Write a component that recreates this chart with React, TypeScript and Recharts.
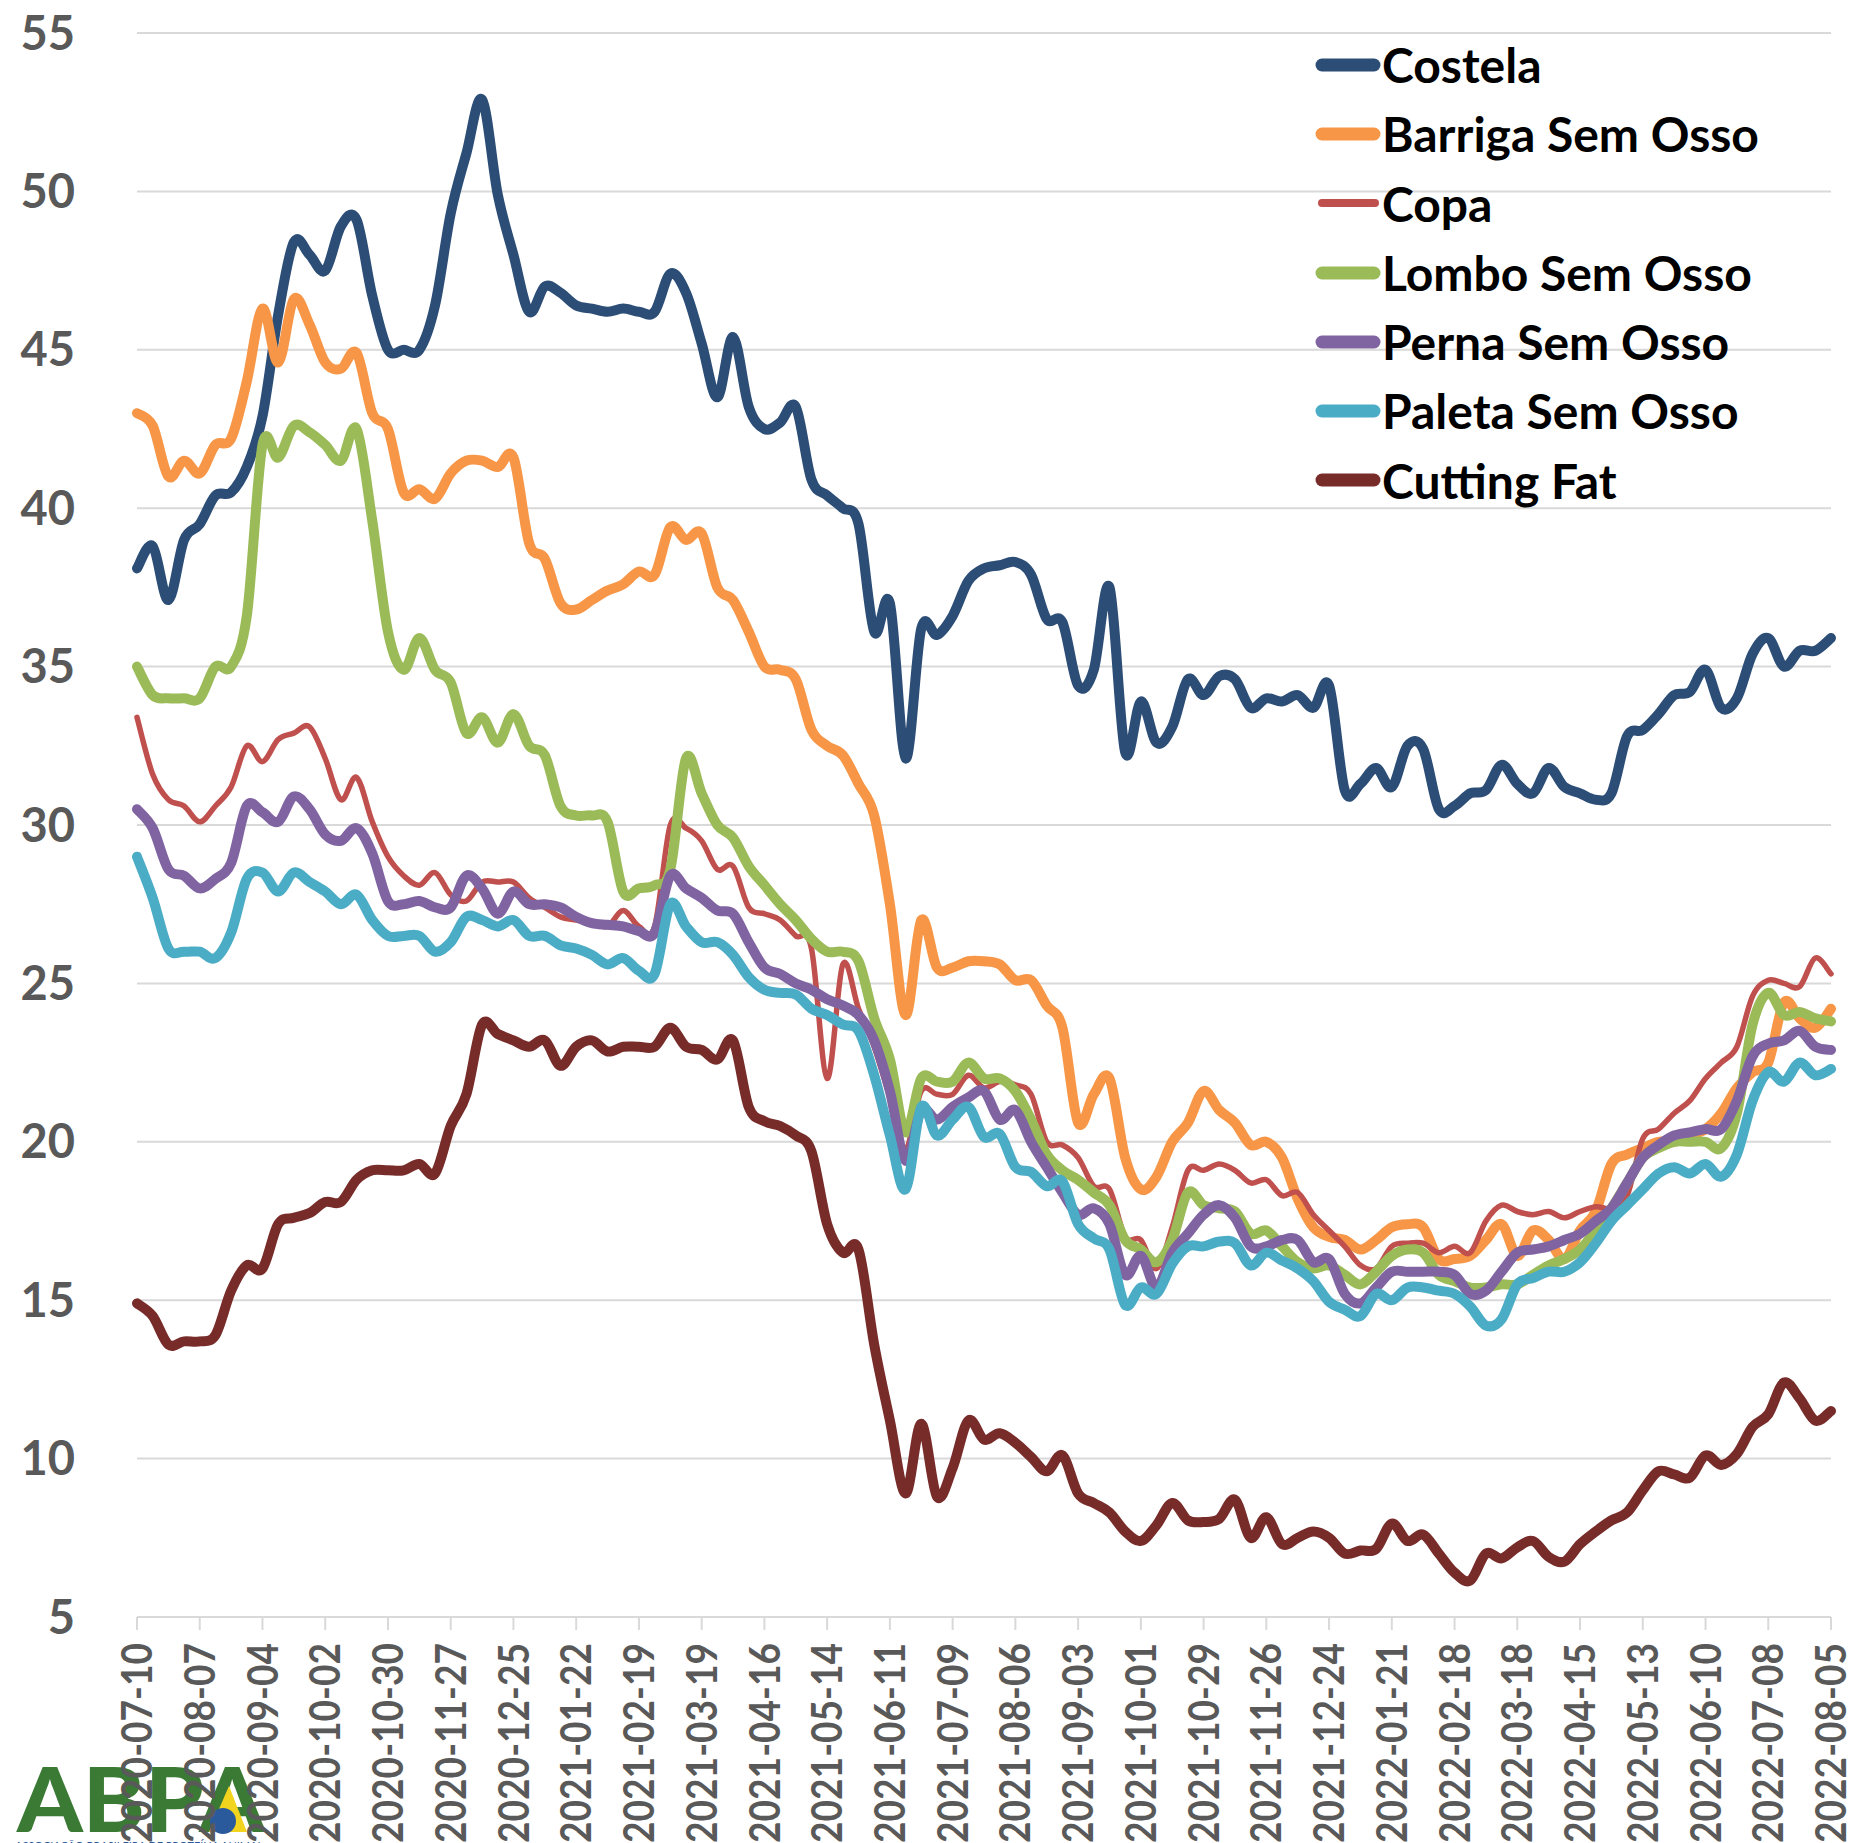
import React from 'react';
import { LineChart, Line, XAxis, YAxis, CartesianGrid } from 'recharts';

const dates = [
  '2020-07-10','2020-07-17','2020-07-24','2020-07-31','2020-08-07','2020-08-14','2020-08-21','2020-08-28',
  '2020-09-04','2020-09-11','2020-09-18','2020-09-25','2020-10-02','2020-10-09','2020-10-16','2020-10-23',
  '2020-10-30','2020-11-06','2020-11-13','2020-11-20','2020-11-27','2020-12-04','2020-12-11','2020-12-18',
  '2020-12-25','2021-01-01','2021-01-08','2021-01-15','2021-01-22','2021-01-29','2021-02-05','2021-02-12',
  '2021-02-19','2021-02-26','2021-03-05','2021-03-12','2021-03-19','2021-03-26','2021-04-02','2021-04-09',
  '2021-04-16','2021-04-23','2021-04-30','2021-05-07','2021-05-14','2021-05-21','2021-05-28','2021-06-04',
  '2021-06-11','2021-06-18','2021-06-25','2021-07-02','2021-07-09','2021-07-16','2021-07-23','2021-07-30',
  '2021-08-06','2021-08-13','2021-08-20','2021-08-27','2021-09-03','2021-09-10','2021-09-17','2021-09-24',
  '2021-10-01','2021-10-08','2021-10-15','2021-10-22','2021-10-29','2021-11-05','2021-11-12','2021-11-19',
  '2021-11-26','2021-12-03','2021-12-10','2021-12-17','2021-12-24','2021-12-31','2022-01-07','2022-01-14',
  '2022-01-21','2022-01-28','2022-02-04','2022-02-11','2022-02-18','2022-02-25','2022-03-04','2022-03-11',
  '2022-03-18','2022-03-25','2022-04-01','2022-04-08','2022-04-15','2022-04-22','2022-04-29','2022-05-06',
  '2022-05-13','2022-05-20','2022-05-27','2022-06-03','2022-06-10','2022-06-17','2022-06-24','2022-07-01',
  '2022-07-08','2022-07-15','2022-07-22','2022-07-29','2022-08-05',
];

const costela = [
  38.1, 38.8, 37.1, 39.0, 39.5, 40.4, 40.5, 41.3, 42.9, 46.1, 48.4, 48.0, 47.5, 48.9, 49.1, 46.7,
  45.0, 45.0, 45.0, 46.4, 49.3, 51.2, 52.9, 49.9, 48.0, 46.2, 47.0, 46.8, 46.4, 46.3, 46.2, 46.3,
  46.2, 46.2, 47.4, 46.8, 45.2, 43.5, 45.4, 43.2, 42.5, 42.7, 43.2, 40.9, 40.4, 40.0, 39.5, 36.1,
  37.0, 32.1, 36.2, 36.0, 36.6, 37.7, 38.1, 38.2, 38.3, 37.9, 36.5, 36.4, 34.4, 34.9, 37.5, 32.3,
  33.9, 32.6, 33.1, 34.6, 34.1, 34.7, 34.6, 33.7, 34.0, 33.9, 34.1, 33.7, 34.4, 31.1, 31.3, 31.8,
  31.2, 32.5, 32.4, 30.5, 30.6, 31.0, 31.1, 31.9, 31.3, 31.0, 31.8, 31.2, 31.0, 30.8, 31.0, 32.8,
  33.0, 33.5, 34.1, 34.2, 34.9, 33.7, 34.0, 35.4, 35.9, 35.0, 35.5, 35.5, 35.9,
];

const barriga = [
  43.0, 42.6, 41.0, 41.5, 41.1, 42.0, 42.2, 44.0, 46.3, 44.6, 46.6, 45.8, 44.6, 44.4, 44.9, 43.0,
  42.5, 40.5, 40.6, 40.3, 41.1, 41.5, 41.5, 41.3, 41.6, 38.9, 38.4, 37.0, 36.8, 37.1, 37.4, 37.6,
  38.0, 37.9, 39.4, 39.0, 39.2, 37.5, 37.1, 36.1, 35.0, 34.9, 34.6, 33.0, 32.5, 32.2, 31.3, 30.3,
  27.5, 24.0, 27.0, 25.5, 25.5, 25.7, 25.7, 25.6, 25.1, 25.1, 24.3, 23.6, 20.6, 21.5, 22.0, 19.5,
  18.5, 18.9, 20.0, 20.6, 21.6, 21.0, 20.6, 19.9, 20.0, 19.5, 18.2, 17.3, 17.0, 16.9, 16.6, 16.9,
  17.3, 17.4, 17.3, 16.3, 16.3, 16.4, 16.9, 17.4, 16.4, 17.2, 16.9, 16.3, 17.2, 17.8, 19.3, 19.6,
  19.8, 20.0, 20.0, 20.2, 20.4, 20.9, 21.7, 22.2, 22.5, 24.4, 23.9, 23.6, 24.2,
];

const copa = [
  33.4, 31.6, 30.8, 30.6, 30.1, 30.6, 31.2, 32.5, 32.0, 32.7, 32.9, 33.1, 32.1, 30.8, 31.5, 30.1,
  29.0, 28.4, 28.1, 28.5, 27.8, 27.6, 28.2, 28.2, 28.2, 27.7, 27.4, 27.1, 27.0, 26.9, 26.8, 27.3,
  26.8, 26.8, 30.0, 29.9, 29.5, 28.6, 28.7, 27.4, 27.2, 27.0, 26.5, 26.1, 22.0, 25.6, 24.2, 23.0,
  21.4, 19.8, 21.6, 21.5, 21.5, 22.1, 21.7, 21.9, 21.8, 21.5, 20.0, 19.9, 19.5, 18.6, 18.5, 17.0,
  16.9, 16.0, 17.3, 19.1, 19.1, 19.3, 19.1, 18.7, 18.8, 18.3, 18.4, 17.7, 17.2, 16.7, 16.1, 16.0,
  16.7, 16.8, 16.8, 16.5, 16.7, 16.5, 17.5, 18.0, 17.8, 17.7, 17.8, 17.6, 17.8, 17.95, 17.9, 18.3,
  20.1, 20.4, 20.9, 21.3, 22.0, 22.5, 23.0, 24.6, 25.1, 25.0, 24.9, 25.8, 25.3,
];

const lombo = [
  35.0, 34.1, 34.0, 34.0, 34.0, 35.0, 35.0, 36.6, 42.0, 41.6, 42.6, 42.4, 42.0, 41.5, 42.5, 39.6,
  36.1, 34.9, 35.9, 34.9, 34.5, 32.9, 33.4, 32.6, 33.5, 32.5, 32.2, 30.6, 30.3, 30.3, 30.1, 27.9,
  28.0, 28.1, 28.6, 32.1, 31.0, 30.0, 29.6, 28.7, 28.1, 27.5, 27.0, 26.4, 26.0, 26.0, 25.7, 23.9,
  22.6, 20.3, 22.0, 21.9, 21.9, 22.5, 22.0, 22.0, 21.6, 20.7, 19.6, 19.1, 18.8, 18.4, 18.0, 16.9,
  16.6, 16.2, 16.9, 18.4, 18.0, 17.9, 17.8, 17.1, 17.2, 16.7, 16.2, 16.0, 16.1, 15.8, 15.5, 15.9,
  16.4, 16.6, 16.5, 15.8, 15.6, 15.4, 15.4, 15.5, 15.5, 15.8, 16.1, 16.3, 16.6, 17.2, 17.9, 18.7,
  19.5, 19.8, 20.0, 20.0, 20.0, 19.8, 20.9, 23.7, 24.7, 24.0, 24.1, 23.9, 23.8,
];

const perna = [
  30.5, 29.9, 28.6, 28.4, 28.0, 28.3, 28.8, 30.6, 30.4, 30.1, 30.9, 30.5, 29.7, 29.5, 29.9, 29.1,
  27.6, 27.5, 27.6, 27.4, 27.4, 28.4, 28.0, 27.2, 27.9, 27.5, 27.5, 27.4, 27.1, 26.9, 26.85, 26.8,
  26.65, 26.6, 28.4, 28.0, 27.7, 27.3, 27.2, 26.3, 25.5, 25.3, 25.0, 24.8, 24.5, 24.3, 24.0, 23.2,
  21.6, 19.4, 21.0, 20.7, 21.1, 21.4, 21.6, 20.7, 21.0, 20.0, 19.2, 18.4, 17.7, 17.9, 17.4, 15.8,
  16.4, 15.4, 16.5, 17.1, 17.7, 18.0, 17.6, 16.7, 16.7, 16.9, 16.9, 16.2, 16.3, 15.2, 14.9, 15.4,
  15.9, 15.9, 15.9, 15.9, 15.8, 15.2, 15.3, 15.9, 16.5, 16.6, 16.7, 16.9, 17.1, 17.5, 17.9, 18.7,
  19.5, 19.9, 20.2, 20.3, 20.4, 20.4, 21.3, 22.7, 23.1, 23.2, 23.5, 23.0, 22.9,
];

const paleta = [
  29.0, 27.7, 26.1, 26.0, 26.0, 25.8, 26.6, 28.3, 28.5, 27.9, 28.5, 28.2, 27.9, 27.5, 27.8, 27.0,
  26.5, 26.5, 26.5, 26.0, 26.3, 27.1, 27.0, 26.8, 27.0, 26.5, 26.5, 26.2, 26.1, 25.9, 25.6, 25.8,
  25.4, 25.3, 27.5, 26.8, 26.3, 26.3, 25.9, 25.2, 24.8, 24.7, 24.65, 24.2, 24.0, 23.7, 23.5, 22.1,
  20.2, 18.5, 21.1, 20.2, 20.7, 21.1, 20.15, 20.25, 19.2, 19.05, 18.6, 18.75, 17.4, 16.95, 16.6, 14.85,
  15.4, 15.2, 16.15, 16.7, 16.7, 16.85, 16.8, 16.1, 16.5, 16.25, 16.0, 15.6, 14.95, 14.7, 14.5, 15.2,
  15.0, 15.4, 15.4, 15.3, 15.2, 14.8, 14.2, 14.4, 15.5, 15.7, 15.9, 15.9, 16.2, 16.8, 17.5, 18.0,
  18.5, 19.0, 19.2, 19.0, 19.3, 18.9, 19.6, 21.3, 22.2, 21.9, 22.5, 22.1, 22.3,
];

const cuttingFat = [
  14.9, 14.5, 13.6, 13.7, 13.7, 13.9, 15.3, 16.1, 16.0, 17.4, 17.6, 17.75, 18.1, 18.1, 18.8, 19.1,
  19.1, 19.1, 19.3, 19.0, 20.5, 21.5, 23.7, 23.4, 23.2, 23.0, 23.2, 22.4, 23.0, 23.2, 22.85, 23.0,
  23.0, 23.0, 23.6, 23.0, 22.9, 22.6, 23.2, 21.1, 20.65, 20.5, 20.2, 19.7, 17.4, 16.5, 16.6, 13.6,
  11.2, 8.9, 11.1, 8.8, 9.7, 11.2, 10.6, 10.8, 10.5, 10.05, 9.6, 10.1, 8.9, 8.6, 8.3, 7.7,
  7.4, 7.9, 8.6, 8.05, 8.0, 8.1, 8.7, 7.5, 8.15, 7.3, 7.5, 7.7, 7.5, 7.0, 7.1, 7.15,
  7.95, 7.4, 7.6, 7.0, 6.4, 6.15, 7.0, 6.85, 7.2, 7.4, 6.9, 6.75, 7.3, 7.7, 8.05, 8.3,
  9.0, 9.6, 9.5, 9.4, 10.1, 9.8, 10.15, 11.0, 11.4, 12.4, 11.9, 11.2, 11.5,
];

const yTicks = [5, 10, 15, 20, 25, 30, 35, 40, 45, 50, 55];

const seriesNames = ['Costela', 'Barriga Sem Osso', 'Copa', 'Lombo Sem Osso', 'Perna Sem Osso', 'Paleta Sem Osso', 'Cutting Fat'];
const seriesKeys = ['costela', 'barriga', 'copa', 'lombo', 'perna', 'paleta', 'cuttingFat'];
const seriesColors = ['#2C4D75', '#F79646', '#C0504D', '#9BBB59', '#8064A2', '#4BACC6', '#772C2A'];
const seriesWidths = [10, 10, 5.5, 10, 10, 10, 10];
const seriesValues = [costela, barriga, copa, lombo, perna, paleta, cuttingFat];

const data = dates.map((date, i) => {
  const row: Record<string, any> = { date };
  seriesKeys.forEach((k, s) => {
    row[k] = seriesValues[s][i];
  });
  return row;
});

// Excel-like smoothed line (Catmull-Rom style Bezier)
const excelCurve = (context: any) => {
  let pts: number[][] = [];
  return {
    areaStart() {},
    areaEnd() {},
    lineStart() {
      pts = [];
    },
    point(x: number, y: number) {
      pts.push([+x, +y]);
    },
    lineEnd() {
      const n = pts.length;
      if (!n) return;
      context.moveTo(pts[0][0], pts[0][1]);
      const t = 1 / 6;
      for (let i = 0; i < n - 1; i++) {
        const p0 = pts[Math.max(i - 1, 0)];
        const p1 = pts[i];
        const p2 = pts[i + 1];
        const p3 = pts[Math.min(i + 2, n - 1)];
        context.bezierCurveTo(
          p1[0] + (p2[0] - p0[0]) * t,
          p1[1] + (p2[1] - p0[1]) * t,
          p2[0] - (p3[0] - p1[0]) * t,
          p2[1] - (p3[1] - p1[1]) * t,
          p2[0],
          p2[1]
        );
      }
    },
  };
};

const FONT = 'Lato, "Open Sans", sans-serif';

const XTick = (props: any) => {
  const { x, y, payload } = props;
  return (
    <g transform={`translate(${x},${y})`}>
      <text
        transform="rotate(-90)"
        textAnchor="end"
        dy="0.36em"
        fill="#595959"
        fontFamily={FONT}
        fontWeight={700}
        fontSize={42}
        textLength={200}
        lengthAdjust="spacingAndGlyphs"
      >
        {payload.value}
      </text>
    </g>
  );
};

const LegendBox = () => (
  <div style={{ position: 'absolute', left: 1310, top: 30, fontFamily: FONT }}>
    {seriesNames.map((name, i) => (
      <div
        key={name}
        style={{ height: 69.3, display: 'flex', alignItems: 'center', whiteSpace: 'nowrap' }}
      >
        <svg width={72} height={20} style={{ display: 'block' }}>
          <line
            x1={12}
            y1={10}
            x2={i === 2 ? 65 : 64}
            y2={10}
            stroke={seriesColors[i]}
            strokeWidth={i === 2 ? 8 : 13}
            strokeLinecap="round"
          />
        </svg>
        <span style={{ fontSize: 48, fontWeight: 700, color: '#000', lineHeight: '69.3px' }}>{name}</span>
      </div>
    ))}
  </div>
);

const Logo = () => (
  <svg width={1851} height={1843} style={{ position: 'absolute', left: 0, top: 0 }}>
    <text
      x={17}
      y={1832}
      fontFamily={FONT}
      fontWeight={900}
      fontSize={90}
      fill="#3B7A35"
      textLength={248}
      lengthAdjust="spacingAndGlyphs"
    >
      ABPA
    </text>
    <polygon points="209,1832 229,1786 247,1832" fill="#F2D41F" />
    <circle cx={223} cy={1821} r={13} fill="#2B5A9C" />
    <text
      x={15}
      y={1850}
      fontFamily={FONT}
      fontSize={12}
      fill="#2B5A9C"
      textLength={248}
      lengthAdjust="spacingAndGlyphs"
    >
      ASSOCIAÇÃO BRASILEIRA DE PROTEÍNA ANIMAL
    </text>
  </svg>
);

export default function App() {
  return (
    <div style={{ position: 'absolute', left: 0, top: 0, width: 1851, height: 1843, background: '#fff', overflow: 'hidden' }}>
      <Logo />
      <div style={{ position: 'absolute', left: 0, top: 0 }}>
        <LineChart width={1851} height={1843} data={data} margin={{ top: 33, right: 20, left: 0, bottom: 0 }}>
          <CartesianGrid vertical={false} stroke="#D9D9D9" strokeWidth={2} />
          <XAxis
            dataKey="date"
            interval={3}
            height={226}
            tickSize={13}
            tickMargin={13}
            axisLine={{ stroke: '#D9D9D9', strokeWidth: 2 }}
            tickLine={{ stroke: '#D9D9D9', strokeWidth: 2 }}
            tick={<XTick />}
          />
          <YAxis
            width={137}
            domain={[5, 55]}
            ticks={yTicks}
            type="number"
            axisLine={false}
            tickLine={false}
            tickSize={0}
            tickMargin={62}
            tick={{ fill: '#595959', fontSize: 47, fontWeight: 700, fontFamily: FONT }}
          />
          {seriesKeys.map((k, i) => (
            <Line
              key={k}
              dataKey={k}
              name={seriesNames[i]}
              type={excelCurve as any}
              stroke={seriesColors[i]}
              strokeWidth={seriesWidths[i]}
              strokeLinejoin="round"
              strokeLinecap="round"
              dot={false}
              activeDot={false}
              isAnimationActive={false}
            />
          ))}
        </LineChart>
      </div>
      <LegendBox />
    </div>
  );
}
